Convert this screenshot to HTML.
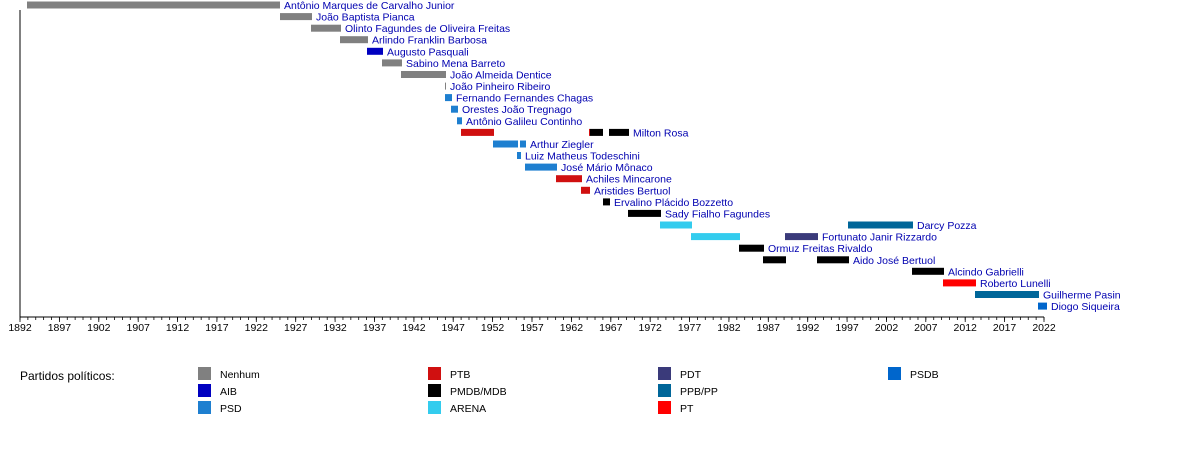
<!DOCTYPE html>
<html><head><meta charset="utf-8"><style>
body{margin:0;background:#fff;width:1200px;height:464px;overflow:hidden}
svg{display:block}
text{font-family:"Liberation Sans",sans-serif;font-size:10.5px}
.l{fill:#0000b0}
.N{fill:#808080}.AIB{fill:#0000c0}.PSD{fill:#1e7fd0}.PTB{fill:#d01010}.M{fill:#000}.AR{fill:#33ccee}.PDT{fill:#3a3a7a}.PP{fill:#006699}.PT{fill:#ff0000}.PSDB{fill:#0066cc}
</style></head><body>
<svg width="1200" height="464" xmlns="http://www.w3.org/2000/svg">
<rect class="N" x="27" y="1.5" width="253" height="7"/><text class="l" x="284" y="9">Antônio Marques de Carvalho Junior</text>
<rect class="N" x="280" y="13.1" width="32" height="7"/><text class="l" x="316" y="20.6">João Baptista Pianca</text>
<rect class="N" x="311" y="24.7" width="30" height="7"/><text class="l" x="345" y="32.2">Olinto Fagundes de Oliveira Freitas</text>
<rect class="N" x="340" y="36.2" width="28" height="7"/><text class="l" x="372" y="43.7">Arlindo Franklin Barbosa</text>
<rect class="AIB" x="367" y="47.8" width="16" height="7"/><text class="l" x="387" y="55.3">Augusto Pasquali</text>
<rect class="N" x="382" y="59.4" width="20" height="7"/><text class="l" x="406" y="66.9">Sabino Mena Barreto</text>
<rect class="N" x="401" y="71" width="45" height="7"/><text class="l" x="450" y="78.5">João Almeida Dentice</text>
<rect class="N" x="445" y="82.6" width="1" height="7"/><text class="l" x="450" y="90.1">João Pinheiro Ribeiro</text>
<rect class="PSD" x="445" y="94.1" width="7" height="7"/><text class="l" x="456" y="101.6">Fernando Fernandes Chagas</text>
<rect class="PSD" x="451" y="105.7" width="7" height="7"/><text class="l" x="462" y="113.2">Orestes João Tregnago</text>
<rect class="PSD" x="457" y="117.3" width="5" height="7"/><text class="l" x="466" y="124.8">Antônio Galileu Continho</text>
<rect class="PTB" x="461" y="128.9" width="33" height="7"/><rect class="PTB" x="589" y="128.9" width="1" height="7"/><rect class="M" x="590" y="128.9" width="13" height="7"/><rect class="M" x="609" y="128.9" width="20" height="7"/><text class="l" x="633" y="136.4">Milton Rosa</text>
<rect class="PSD" x="493" y="140.5" width="25" height="7"/><rect class="PSD" x="520" y="140.5" width="6" height="7"/><text class="l" x="530" y="148">Arthur Ziegler</text>
<rect class="PSD" x="517" y="152" width="4" height="7"/><text class="l" x="525" y="159.5">Luiz Matheus Todeschini</text>
<rect class="PSD" x="525" y="163.6" width="32" height="7"/><text class="l" x="561" y="171.1">José Mário Mônaco</text>
<rect class="PTB" x="556" y="175.2" width="26" height="7"/><text class="l" x="586" y="182.7">Achiles Mincarone</text>
<rect class="PTB" x="581" y="186.8" width="9" height="7"/><text class="l" x="594" y="194.3">Aristides Bertuol</text>
<rect class="M" x="603" y="198.4" width="7" height="7"/><text class="l" x="614" y="205.9">Ervalino Plácido Bozzetto</text>
<rect class="M" x="628" y="209.9" width="33" height="7"/><text class="l" x="665" y="217.4">Sady Fialho Fagundes</text>
<rect class="AR" x="660" y="221.5" width="32" height="7"/><rect class="PP" x="848" y="221.5" width="65" height="7"/><text class="l" x="917" y="229">Darcy Pozza</text>
<rect class="AR" x="691" y="233.1" width="49" height="7"/><rect class="PDT" x="785" y="233.1" width="33" height="7"/><text class="l" x="822" y="240.6">Fortunato Janir Rizzardo</text>
<rect class="M" x="739" y="244.7" width="25" height="7"/><text class="l" x="768" y="252.2">Ormuz Freitas Rivaldo</text>
<rect class="M" x="763" y="256.3" width="23" height="7"/><rect class="M" x="817" y="256.3" width="32" height="7"/><text class="l" x="853" y="263.8">Aido José Bertuol</text>
<rect class="M" x="912" y="267.8" width="32" height="7"/><text class="l" x="948" y="275.3">Alcindo Gabrielli</text>
<rect class="PT" x="943" y="279.4" width="33" height="7"/><text class="l" x="980" y="286.9">Roberto Lunelli</text>
<rect class="PP" x="975" y="291" width="64" height="7"/><text class="l" x="1043" y="298.5">Guilherme Pasin</text>
<rect class="PSDB" x="1038" y="302.6" width="9" height="7"/><text class="l" x="1051" y="310.1">Diogo Siqueira</text>

<line x1="20" y1="10" x2="20" y2="317" stroke="#000"/>
<line x1="20" y1="317" x2="1044" y2="317" stroke="#000"/>
<line x1="19.6" y1="318.5" x2="1045" y2="318.5" stroke="#000" stroke-width="3" stroke-dasharray="0.8 7.077"/>
<g stroke="#000" stroke-width="0.8">
<line x1="20" y1="317" x2="20" y2="322"/><line x1="59.4" y1="317" x2="59.4" y2="322"/><line x1="98.8" y1="317" x2="98.8" y2="322"/><line x1="138.2" y1="317" x2="138.2" y2="322"/><line x1="177.5" y1="317" x2="177.5" y2="322"/><line x1="216.9" y1="317" x2="216.9" y2="322"/><line x1="256.3" y1="317" x2="256.3" y2="322"/><line x1="295.7" y1="317" x2="295.7" y2="322"/><line x1="335.1" y1="317" x2="335.1" y2="322"/><line x1="374.5" y1="317" x2="374.5" y2="322"/><line x1="413.9" y1="317" x2="413.9" y2="322"/><line x1="453.2" y1="317" x2="453.2" y2="322"/><line x1="492.6" y1="317" x2="492.6" y2="322"/><line x1="532" y1="317" x2="532" y2="322"/><line x1="571.4" y1="317" x2="571.4" y2="322"/><line x1="610.8" y1="317" x2="610.8" y2="322"/><line x1="650.2" y1="317" x2="650.2" y2="322"/><line x1="689.5" y1="317" x2="689.5" y2="322"/><line x1="728.9" y1="317" x2="728.9" y2="322"/><line x1="768.3" y1="317" x2="768.3" y2="322"/><line x1="807.7" y1="317" x2="807.7" y2="322"/><line x1="847.1" y1="317" x2="847.1" y2="322"/><line x1="886.5" y1="317" x2="886.5" y2="322"/><line x1="925.8" y1="317" x2="925.8" y2="322"/><line x1="965.2" y1="317" x2="965.2" y2="322"/><line x1="1004.6" y1="317" x2="1004.6" y2="322"/><line x1="1044" y1="317" x2="1044" y2="322"/>
</g>
<g text-anchor="middle">
<text x="20" y="331">1892</text><text x="59.4" y="331">1897</text><text x="98.8" y="331">1902</text><text x="138.2" y="331">1907</text><text x="177.5" y="331">1912</text><text x="216.9" y="331">1917</text><text x="256.3" y="331">1922</text><text x="295.7" y="331">1927</text><text x="335.1" y="331">1932</text><text x="374.5" y="331">1937</text><text x="413.9" y="331">1942</text><text x="453.2" y="331">1947</text><text x="492.6" y="331">1952</text><text x="532" y="331">1957</text><text x="571.4" y="331">1962</text><text x="610.8" y="331">1967</text><text x="650.2" y="331">1972</text><text x="689.5" y="331">1977</text><text x="728.9" y="331">1982</text><text x="768.3" y="331">1987</text><text x="807.7" y="331">1992</text><text x="847.1" y="331">1997</text><text x="886.5" y="331">2002</text><text x="925.8" y="331">2007</text><text x="965.2" y="331">2012</text><text x="1004.6" y="331">2017</text><text x="1044" y="331">2022</text>
</g>

<text x="20" y="380" style="font-size:12px">Partidos políticos:</text>
<rect class="N" x="198" y="367" width="13" height="13"/><text x="220" y="378">Nenhum</text>
<rect class="AIB" x="198" y="384" width="13" height="13"/><text x="220" y="395">AIB</text>
<rect class="PSD" x="198" y="401" width="13" height="13"/><text x="220" y="412">PSD</text>
<rect class="PTB" x="428" y="367" width="13" height="13"/><text x="450" y="378">PTB</text>
<rect class="M" x="428" y="384" width="13" height="13"/><text x="450" y="395">PMDB/MDB</text>
<rect class="AR" x="428" y="401" width="13" height="13"/><text x="450" y="412">ARENA</text>
<rect class="PDT" x="658" y="367" width="13" height="13"/><text x="680" y="378">PDT</text>
<rect class="PP" x="658" y="384" width="13" height="13"/><text x="680" y="395">PPB/PP</text>
<rect class="PT" x="658" y="401" width="13" height="13"/><text x="680" y="412">PT</text>
<rect class="PSDB" x="888" y="367" width="13" height="13"/><text x="910" y="378">PSDB</text>
</svg>
</body></html>
